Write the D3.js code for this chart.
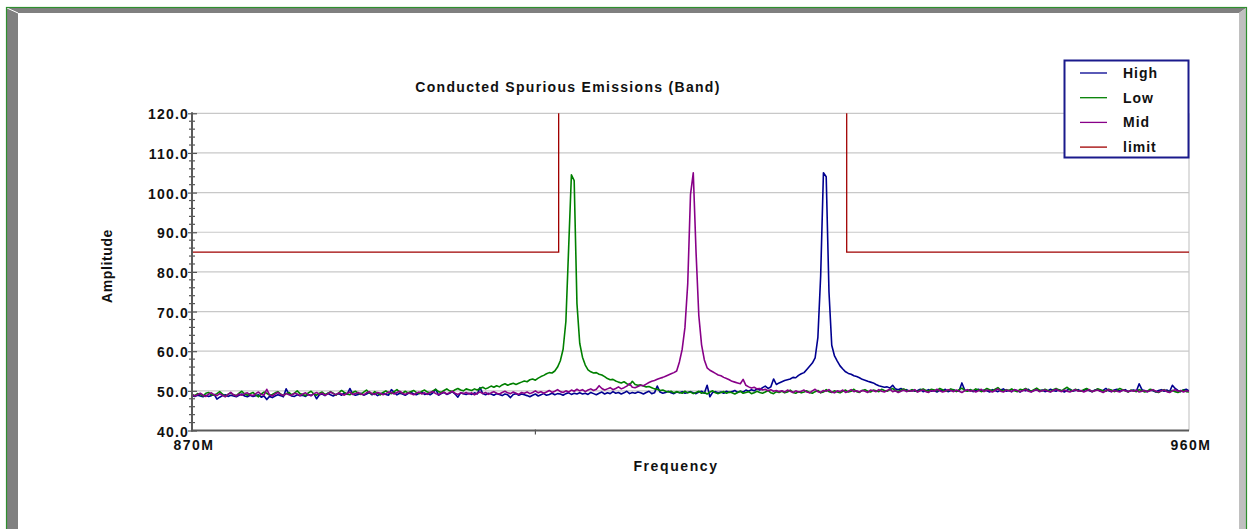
<!DOCTYPE html>
<html>
<head>
<meta charset="utf-8">
<script src="https://cdn.jsdelivr.net/npm/d3@7/dist/d3.min.js"></script>
<style>
  html, body { margin: 0; padding: 0; background: #ffffff; }
  svg { display: block; }
  text { font-family: "Liberation Sans", Arial, Helvetica, sans-serif; font-weight: bold; fill: #111; }
</style>
</head>
<body>
<svg id="chart" width="1249" height="529"></svg>
<script>
// ---------------- data ----------------
const freqStart = 870;      // MHz, first sample
const freqStep = 0.25;      // MHz between samples
const seriesNames = ["High", "Low", "Mid", "limit"];

const highValues = [
  48.8,48.6,48.9,48.7,48.5,48.9,48.6,48.8,49.1,47.9,48.4,48.8,49.0,48.6,48.9,48.7,48.5,48.9,49.2,48.7,
  48.5,48.9,48.6,48.8,49.0,48.4,48.7,47.8,48.6,48.3,48.7,49.0,48.8,48.5,50.5,49.2,48.7,48.6,49.0,48.8,
  48.9,48.6,49.1,48.8,49.3,48.0,49.0,49.2,48.8,49.4,49.0,48.7,49.1,49.3,48.9,49.5,49.1,50.6,49.2,48.9,
  49.1,49.4,48.9,49.2,49.6,49.0,49.3,48.8,49.2,49.5,49.1,48.9,50.3,49.6,49.0,49.4,49.2,48.9,49.3,49.7,
  49.2,49.0,49.4,49.7,49.1,49.3,49.0,49.5,50.4,48.9,49.3,49.6,49.1,49.4,49.8,49.2,48.4,49.5,49.3,49.1,
  49.4,49.1,49.5,49.2,50.8,49.3,49.0,49.4,49.2,48.9,49.3,49.1,48.8,49.2,49.0,48.3,49.1,49.3,48.9,49.2,
  49.0,48.8,48.5,48.9,49.2,48.7,49.0,49.3,48.9,49.1,49.4,49.0,49.3,49.2,48.9,49.3,49.5,49.1,49.4,49.2,
  49.5,49.2,49.4,49.1,49.6,49.3,49.0,49.4,49.7,49.2,49.5,49.3,49.8,49.4,49.6,49.2,49.5,49.9,49.3,49.6,
  49.4,49.7,49.5,49.2,49.6,49.9,49.3,49.5,51.2,49.7,49.4,49.6,49.9,49.5,49.3,49.7,49.5,49.8,49.4,49.6,
  49.8,49.5,49.3,49.7,49.9,49.4,51.4,48.5,49.6,49.8,49.5,49.7,49.4,49.9,49.6,49.8,50.1,49.6,49.9,49.7,
  50.2,49.9,50.3,50.0,50.5,50.2,50.8,51.2,50.6,51.0,53.0,51.6,52.0,52.3,52.6,52.8,53.0,53.4,53.3,53.9,
  54.3,54.6,55.4,56.2,57,58.3,63.5,79,105,104,75,61.5,58.8,57.5,56.3,55.5,54.8,54.4,54.2,53.8,
  53.6,53.3,52.9,52.7,52.4,52.2,52.0,51.6,51.3,51.1,50.9,51.0,50.7,51.4,50.5,50.3,50.6,50.1,50.3,49.9,
  50.2,49.9,50.1,50.4,49.8,50.0,50.3,49.9,50.1,49.7,50.2,50.0,50.4,49.8,50.1,50.3,49.9,50.0,52.0,50.2,
  50.0,50.3,49.8,50.1,50.4,49.9,50.2,50.0,49.7,50.3,50.1,49.8,50.2,50.5,49.9,50.1,49.8,50.3,50.0,49.7,
  50.2,50.0,50.4,49.8,50.1,50.3,49.9,50.2,49.8,50.0,50.4,50.1,49.9,50.3,50.0,49.7,50.2,50.4,49.9,50.1,
  50.3,49.9,50.1,50.5,50.0,49.8,50.2,50.4,49.9,50.1,50.6,50.0,49.8,50.2,50.4,49.9,50.1,50.3,49.8,50.0,
  50.2,49.9,51.8,50.3,50.0,49.8,50.2,50.0,49.7,50.1,50.3,49.9,50.2,49.8,51.4,50.6,50.1,49.8,50.2,50.4,
  50.0
];

const lowValues = [
  49.0,48.8,49.3,49.1,48.7,49.4,49.6,49.0,48.9,49.3,49.8,49.2,48.6,49.1,49.5,49.0,48.8,49.4,49.9,49.2,
  48.9,49.3,49.6,49.0,48.5,49.2,49.7,49.4,48.9,49.1,49.5,49.8,49.2,48.8,49.3,49.6,49.0,49.4,50.0,49.3,
  49.1,48.8,49.5,49.9,49.2,48.9,49.4,49.7,49.1,49.3,49.8,49.4,48.9,49.5,50.1,49.6,49.2,49.0,49.6,49.9,
  49.4,49.1,49.7,50.2,49.5,49.2,49.8,49.4,49.0,49.6,50.0,49.5,49.3,49.8,50.3,49.7,49.4,49.9,49.5,49.8,
  50.1,49.6,49.3,49.9,50.2,49.7,49.5,50.0,50.4,49.8,49.6,50.1,50.5,50.0,49.8,50.3,50.6,50.2,50.0,50.5,
  50.3,50.1,50.5,50.2,50.6,50.9,50.5,50.8,51.2,50.9,51.3,51.0,51.5,51.8,51.4,51.7,51.9,51.6,51.9,52.2,
  52.5,52.3,52.8,53.0,52.7,53.2,53.6,53.9,54.3,54.6,54.5,55.0,56.0,57.6,60.5,67.5,86,104.5,103,72,
  62,58.5,56.5,55.3,54.8,54.5,54.6,54.2,54.0,53.6,53.1,52.8,52.9,52.5,52.2,52.0,52.3,51.8,51.5,52.4,
  51.6,51.4,51.5,51.2,51.0,51.1,50.8,50.5,50.4,50.1,50.2,49.9,49.7,49.9,49.5,49.8,49.6,49.4,49.9,49.5,
  49.7,49.3,49.6,49.9,49.4,49.6,49.2,49.7,50.0,49.5,49.3,49.6,49.8,49.4,49.7,49.5,49.2,49.6,49.9,49.4,
  49.6,49.8,49.3,49.5,49.9,49.6,49.4,49.7,50.1,49.5,49.3,49.8,49.6,49.9,49.5,49.7,50.2,49.6,49.4,49.8,
  49.5,49.7,50.0,49.6,49.4,49.8,50.1,49.5,49.7,50.3,49.8,49.6,50.0,49.7,49.5,49.9,50.2,49.7,49.9,50.4,
  49.8,49.6,50.1,50.3,49.9,49.7,50.2,50.0,49.8,50.4,50.1,49.9,50.3,50.6,50.0,49.8,50.2,50.5,50.1,49.9,
  50.3,50.0,49.8,50.2,50.5,50.1,49.9,50.4,50.2,50.0,50.6,50.3,49.9,50.1,50.5,50.2,49.8,50.3,50.7,50.1,
  49.9,50.3,50.0,50.5,50.2,49.8,50.1,50.6,50.3,50.0,50.4,50.8,50.2,49.9,50.3,50.1,50.5,50.0,49.8,50.4,
  50.2,50.6,50.1,49.9,50.3,50.7,50.2,50.0,50.4,50.1,49.8,50.3,50.6,50.2,50.0,50.5,50.9,50.3,50.0,50.4,
  50.1,49.9,50.3,50.6,50.2,49.8,50.1,50.5,50.3,50.0,49.9,50.4,50.2,49.8,50.1,50.6,50.3,50.0,49.7,50.2,
  50.0,49.8,50.3,50.1,49.7,49.9,50.4,50.2,49.8,49.6,50.0,50.3,49.9,49.7,50.1,49.8,49.6,49.9,50.2,49.8,
  49.7
];

const midValues = [
  49.1,48.7,49.0,49.4,48.9,48.6,49.2,49.5,49.0,48.8,49.3,48.9,48.5,49.1,49.6,49.0,48.7,49.2,48.9,49.3,
  49.5,49.0,48.8,49.3,49.7,49.1,48.9,50.4,49.0,48.7,49.2,49.6,49.1,48.8,49.3,49.0,48.9,49.4,49.2,48.8,
  49.2,49.5,49.0,48.8,49.3,49.6,49.1,49.4,48.9,49.2,49.7,49.3,49.0,49.5,49.2,48.9,49.4,49.7,49.1,49.3,
  49.6,49.2,49.0,49.5,49.8,49.3,49.1,49.6,49.4,49.0,49.3,49.7,49.5,49.2,49.6,49.9,49.4,49.1,49.5,49.3,
  49.0,49.4,49.7,49.2,49.5,49.1,49.6,49.8,49.3,49.0,49.4,49.7,49.2,49.5,49.9,49.4,49.1,49.5,49.3,49.6,
  49.2,49.5,49.0,49.4,49.7,49.3,49.6,49.1,49.5,49.8,49.4,49.2,49.6,49.9,49.5,49.3,49.7,49.4,49.1,49.6,
  49.4,49.7,49.3,49.6,50.0,49.5,49.8,49.4,49.7,50.1,49.6,49.9,50.3,49.8,49.6,50.0,49.7,50.2,49.9,50.4,
  50.0,50.3,49.8,50.2,50.5,50.1,50.4,51.3,50.6,50.2,50.5,50.8,50.3,50.6,51.0,50.5,50.8,51.2,51.8,50.9,
  50.8,51.1,51.4,51.3,51.7,52.1,52.4,52.6,52.9,53.2,53.4,53.7,54.0,54.3,54.6,55.0,57.3,60.5,66,77,
  99.5,105,85,69,61.6,57.8,55.8,55.2,54.8,54.4,54.0,53.8,53.4,53.1,52.8,52.4,52.2,52.0,51.8,52.9,
  51.4,51.0,50.7,50.9,50.5,50.6,50.2,50.4,50.0,50.3,49.9,50.1,49.8,50.0,49.7,50.2,49.9,49.6,50.0,49.7,
  49.9,50.2,49.7,49.5,50.0,50.4,49.8,49.6,50.1,49.9,50.3,49.7,49.5,50.0,49.8,50.2,49.6,49.9,50.3,49.8,
  50.0,49.7,50.1,49.9,49.6,50.2,50.0,49.8,50.3,49.9,49.7,50.1,50.4,49.8,50.0,49.6,49.9,50.2,49.8,50.1,
  49.9,50.3,49.7,50.0,50.2,49.8,49.6,50.1,49.9,50.4,50.0,49.7,49.9,50.3,50.1,49.8,50.2,49.9,49.6,50.0,
  50.3,49.9,50.1,49.7,50.0,50.4,49.8,50.2,50.0,49.7,50.1,50.5,49.9,49.7,50.2,50.0,49.8,50.3,50.1,49.8,
  50.0,50.4,49.9,49.7,50.1,50.3,49.8,50.0,50.2,49.9,49.7,50.1,50.4,50.0,49.8,50.2,49.9,49.7,50.0,50.3,
  49.9,50.1,49.7,50.0,50.3,49.8,50.0,50.2,49.9,49.6,50.0,50.3,49.8,50.1,49.9,49.7,50.2,50.0,49.8,50.1,
  49.9,50.2,49.7,49.9,50.1,49.8,50.0,50.3,49.9,49.7,50.0,50.2,49.8,49.6,50.0,50.3,49.9,50.1,49.7,50.0,
  49.9
];

// limit mask (in-band part lies above the plotted range)
const limitFreqs  = [870, 903.1, 903.1, 929.1, 929.1, 960];
const limitValues = [85, 85, 130, 130, 85, 85];

const yMajorTicks = [40, 50, 60, 70, 80, 90, 100, 110, 120];
const yMinorTicks = [42,44,46,48,52,54,56,58,62,64,66,68,72,74,76,78,82,84,86,88,92,94,96,98,102,104,106,108,112,114,116,118];
const xTickFreqs  = [870, 960];
const xTickLabels = ["870M", "960M"];
const xMinorTicks = [901];

const titleText = "Conducted Spurious Emissions (Band)";
const xAxisTitle = "Frequency";
const yAxisTitle = "Amplitude";

// ---------------- styles ----------------
const colors = { High: "#000090", Low: "#008000", Mid: "#880088", limit: "#a00000" };
const W = 1249, H = 529;
const plot = { left: 192, right: 1189, top: 113.3, bottom: 430.5 };

const svg = d3.select("#chart");

// background frame
svg.append("rect").attr("x", 0).attr("y", 0).attr("width", W).attr("height", H).attr("fill", "#ffffff");
svg.append("polygon").attr("points", "7,8 1246,8 1239,13 18,13").attr("fill", "#808080");
svg.append("polygon").attr("points", "7,8 18,13 18,529 7,529").attr("fill", "#808080");
svg.append("polygon").attr("points", "1239,13 1246,8 1246,529 1239,529").attr("fill", "#c0c0c0");
svg.append("line").attr("x1", 7).attr("y1", 8).attr("x2", 18).attr("y2", 13).attr("stroke", "#ffffff").attr("stroke-width", 1);
svg.append("rect").attr("x", 6.5).attr("y", 7.5).attr("width", 1240).attr("height", 540)
  .attr("fill", "none").attr("stroke", "#2f8f2f").attr("stroke-width", 1.2);

// scales
const x = d3.scaleLinear().domain([870, 960]).range([plot.left, plot.right]);
const y = d3.scaleLinear().domain([40, 120]).range([plot.bottom, plot.top]);

// gridlines
svg.append("g").selectAll("line").data(yMajorTicks.filter(v => v > 40)).join("line")
  .attr("x1", plot.left).attr("x2", plot.right)
  .attr("y1", d => y(d)).attr("y2", d => y(d))
  .attr("stroke", "#c8c8c8").attr("stroke-width", 1.2);
svg.append("line").attr("x1", plot.right).attr("x2", plot.right).attr("y1", plot.top).attr("y2", plot.bottom)
  .attr("stroke", "#c8c8c8").attr("stroke-width", 1.2);

// clip for data
svg.append("defs").append("clipPath").attr("id", "plotclip").append("rect")
  .attr("x", plot.left).attr("y", plot.top).attr("width", plot.right - plot.left).attr("height", plot.bottom - plot.top);

const gData = svg.append("g").attr("clip-path", "url(#plotclip)");
const lineGen = d3.line().x((d, i) => x(freqStart + i * freqStep)).y(d => y(d));

[["High", highValues], ["Low", lowValues], ["Mid", midValues]].forEach(([name, vals]) => {
  gData.append("path").datum(vals).attr("d", lineGen)
    .attr("fill", "none").attr("stroke", colors[name]).attr("stroke-width", 1.6)
    .attr("stroke-linejoin", "round");
});

const limitLine = d3.line().x(d => x(d[0])).y(d => y(d[1]));
gData.append("path").datum(limitFreqs.map((f, i) => [f, limitValues[i]])).attr("d", limitLine)
  .attr("fill", "none").attr("stroke", colors.limit).attr("stroke-width", 1.3);

// y axis
const yAxis = d3.axisLeft(y).tickValues(yMajorTicks).tickFormat(d => d.toFixed(1)).tickSize(0).tickPadding(3);
const gy = svg.append("g").attr("transform", `translate(${plot.left},0)`).call(yAxis);
gy.select(".domain").remove();
gy.selectAll("text").attr("font-size", 14).attr("font-family", "Liberation Sans, Arial, sans-serif")
  .attr("font-weight", "bold").attr("fill", "#111").attr("letter-spacing", "1.2px").attr("dy", "0.4em");
gy.selectAll(".tick").append("line").attr("x1", -4).attr("x2", 5).attr("stroke", "#555").attr("stroke-width", 1.2);
gy.selectAll(".tickminor").data(yMinorTicks).join("line").attr("class", "tickminor")
  .attr("x1", -3).attr("x2", 3).attr("y1", d => y(d)).attr("y2", d => y(d))
  .attr("stroke", "#555").attr("stroke-width", 1.2);
svg.append("line").attr("x1", plot.left).attr("x2", plot.left).attr("y1", plot.top - 1).attr("y2", plot.bottom + 1)
  .attr("stroke", "#5a5a5a").attr("stroke-width", 2);

// x axis
const xAxis = d3.axisBottom(x).tickValues(xTickFreqs).tickFormat((d, i) => xTickLabels[i]).tickSize(0).tickPadding(10);
const gx = svg.append("g").attr("transform", `translate(0,${plot.bottom})`).call(xAxis);
gx.select(".domain").remove();
gx.selectAll("text").attr("font-size", 14).attr("font-family", "Liberation Sans, Arial, sans-serif")
  .attr("font-weight", "bold").attr("fill", "#111").attr("letter-spacing", "1.4px").attr("dx", "0.1em");
gx.selectAll(".tickminor").data(xMinorTicks).join("line").attr("class", "tickminor")
  .attr("x1", d => x(d)).attr("x2", d => x(d)).attr("y1", -1).attr("y2", 4)
  .attr("stroke", "#555").attr("stroke-width", 1.2);
svg.append("line").attr("x1", plot.left - 1).attr("x2", plot.right).attr("y1", plot.bottom).attr("y2", plot.bottom)
  .attr("stroke", "#5a5a5a").attr("stroke-width", 2);

// titles
svg.append("text").attr("x", 568).attr("y", 92).attr("text-anchor", "middle")
  .attr("font-size", 14).attr("letter-spacing", "1.3px").text(titleText);
svg.append("text").attr("x", 676).attr("y", 471).attr("text-anchor", "middle")
  .attr("font-size", 14).attr("letter-spacing", "1.6px").text(xAxisTitle);
svg.append("text").attr("transform", "translate(112,266) rotate(-90)").attr("text-anchor", "middle")
  .attr("font-size", 14).attr("letter-spacing", "0.6px").text(yAxisTitle);

// legend
const lg = svg.append("g");
lg.append("rect").attr("x", 1064.5).attr("y", 60.5).attr("width", 124).attr("height", 97)
  .attr("fill", "#ffffff").attr("stroke", "#1a1a8c").attr("stroke-width", 2);
seriesNames.forEach((name, i) => {
  const yy = 73 + i * 24.7;
  lg.append("line").attr("x1", 1080).attr("x2", 1107).attr("y1", yy).attr("y2", yy)
    .attr("stroke", colors[name]).attr("stroke-width", 1.3);
  lg.append("text").attr("x", 1123).attr("y", yy + 5).attr("font-size", 14)
    .attr("letter-spacing", "1px").text(name);
});
</script>
</body>
</html>
